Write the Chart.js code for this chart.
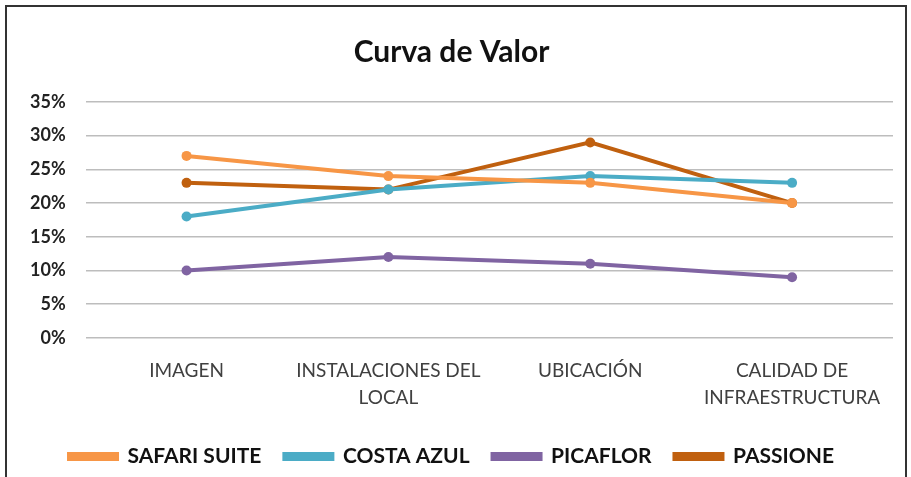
<!DOCTYPE html>
<html>
<head>
<meta charset="utf-8">
<script src="https://cdn.jsdelivr.net/npm/chart.js@4/dist/chart.umd.min.js"></script>
<style>
  html, body { margin: 0; padding: 0; background: #fff; }
  #wrap { position: relative; width: 911px; height: 477px; }
  #frame { position: absolute; left: 5px; top: 5px; width: 898px; height: 480px; border: 2px solid #333; pointer-events: none; }
</style>
</head>
<body>
<div id="wrap">
  <canvas id="chart" width="911" height="477"></canvas>
  <div id="frame"></div>
</div>
<script>
const categories = ['IMAGEN', ['INSTALACIONES DEL', 'LOCAL'], 'UBICACIÓN', ['CALIDAD DE', 'INFRAESTRUCTURA']]
const safariSuite = [27, 24, 23, 20]
const costaAzul = [18, 22, 24, 23]
const picaflor = [10, 12, 11, 9]
const passione = [23, 22, 29, 20]
const yTicks = [0, 5, 10, 15, 20, 25, 30, 35]

const ctx = document.getElementById('chart').getContext('2d')

function series(label, data, color) {
    return {
        label: label,
        data: data,
        borderColor: color,
        backgroundColor: color,
        borderWidth: 4,
        pointRadius: 5,
        pointBorderWidth: 0,
        tension: 0
    }
}

new Chart(ctx, {
    type: 'line',
    data: {
        labels: categories,
        datasets: [
            series('SAFARI SUITE', safariSuite, '#F79646'),
            series('COSTA AZUL', costaAzul, '#4BACC6'),
            series('PICAFLOR', picaflor, '#8064A2'),
            series('PASSIONE', passione, '#C0600F')
        ]
    },
    options: {
        responsive: false,
        animation: false,
        layout: { padding: { left: 10, right: 18, top: 10, bottom: 0 } },
        plugins: {
            title: {
                display: true,
                text: 'Curva de Valor',
                color: '#111',
                font: { family: 'Lato', size: 30, weight: 'bold' },
                padding: { top: 24, bottom: 32 }
            },
            legend: {
                position: 'bottom',
                labels: {
                    color: '#111',
                    boxWidth: 48,
                    boxHeight: 5,
                    padding: 23,
                    font: { family: 'Lato', size: 21, weight: 'bold' }
                }
            },
            tooltip: { enabled: false }
        },
        scales: {
            x: {
                offset: true,
                grid: { display: false },
                border: { display: false },
                ticks: {
                    color: '#404040',
                    font: { family: 'Lato', size: 19, lineHeight: 1.4 },
                    padding: 12,
                    maxRotation: 0,
                    autoSkip: false
                }
            },
            y: {
                min: 0,
                max: 35,
                afterBuildTicks: (axis) => { axis.ticks = yTicks.map(v => ({ value: v })) },
                grid: { color: '#BDBDBD', lineWidth: 1.5, drawTicks: false },
                border: { display: false },
                ticks: {
                    color: '#222',
                    font: { family: 'Lato', size: 18, weight: 'bold' },
                    padding: 20,
                    callback: (v) => v + '%'
                }
            }
        }
    }
})
</script>
</body>
</html>
